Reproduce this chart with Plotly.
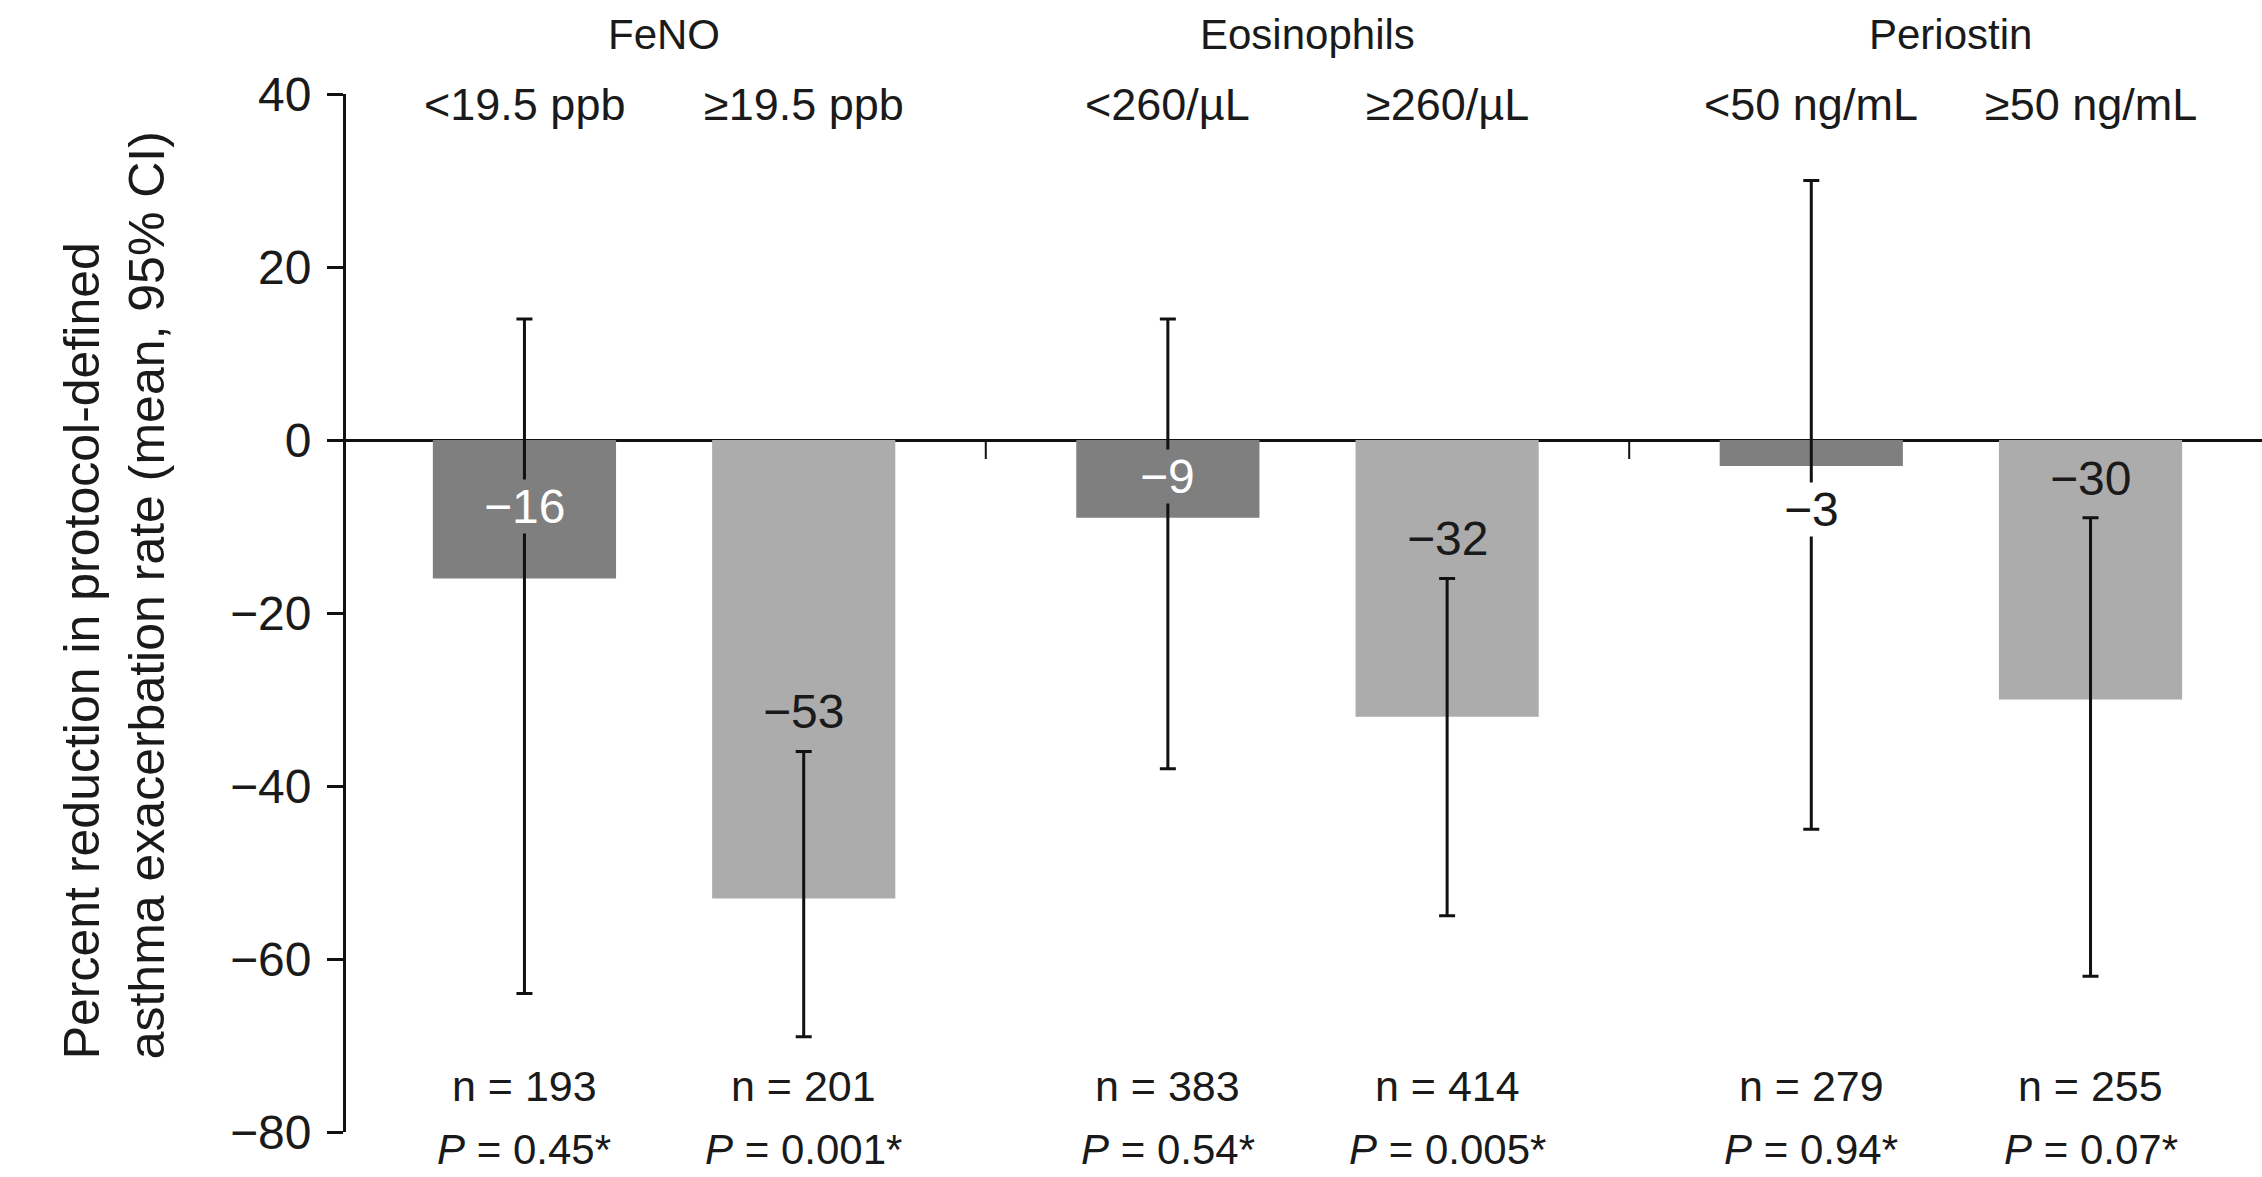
import plotly.graph_objects as go

# ---- data ----
groups = ["FeNO", "Eosinophils", "Periostin"]
subgroups = ["<19.5 ppb", "≥19.5 ppb", "<260/µL", "≥260/µL", "<50 ng/mL", "≥50 ng/mL"]
values = [-16, -53, -9, -32, -3, -30]
ci_upper = [14, -36, 14, -16, 30, -9]
ci_lower = [-64, -69, -38, -55, -45, -62]
n_values = [193, 201, 383, 414, 279, 255]
p_values = ["0.45", "0.001", "0.54", "0.005", "0.94", "0.07"]
y_ticks = [-80, -60, -40, -20, 0, 20, 40]

# ---- layout config (positions / styles) ----
GROUP_STEP = 2.304
BAR_WIDTH = 0.656
DARK = "#7f7f7f"
LIGHT = "#acacac"
FONT = "Liberation Sans, Arial, sans-serif"
TXT = "#1a1a1a"
label_y = [-7.7, -31.4, -4.2, -11.4, -8.0, -4.5]

xpos = [(i // 2) * GROUP_STEP + (i % 2) for i in range(len(values))]
colors = [DARK if i % 2 == 0 else LIGHT for i in range(len(values))]

fig = go.Figure()
fig.add_trace(go.Bar(
    x=xpos, y=values, width=BAR_WIDTH,
    marker=dict(color=colors, line=dict(width=0)),
    error_y=dict(type="data", symmetric=False,
                 array=[u - v for u, v in zip(ci_upper, values)],
                 arrayminus=[v - l for v, l in zip(values, ci_lower)],
                 color="#111111", thickness=3, width=8),
    showlegend=False, hoverinfo="skip",
))

ann = []
# bar value labels
for i, v in enumerate(values):
    inside_dark = (i % 2 == 0) and (label_y[i] > v)
    if i % 2 == 0:
        bg = DARK if inside_dark else "white"
        fc = "white" if inside_dark else TXT
    else:
        bg = LIGHT
        fc = TXT
    ann.append(dict(x=xpos[i], y=label_y[i], xref="x", yref="y",
                    text=f"−{abs(v)}", showarrow=False, bgcolor=bg, borderpad=0,
                    yanchor="middle",
                    font=dict(size=48, color=fc, family=FONT)))
# subgroup labels
for i, s in enumerate(subgroups):
    ann.append(dict(x=xpos[i], y=38.8, xref="x", yref="y", text=s, showarrow=False,
                    yanchor="middle",
                    font=dict(size=45, color=TXT, family=FONT)))
# group headers
for g, name in enumerate(groups):
    ann.append(dict(x=g * GROUP_STEP + 0.5, y=1.0575, xref="x", yref="paper",
                    text=name, showarrow=False, yanchor="middle",
                    font=dict(size=42, color=TXT, family=FONT)))
# n and P labels
for i in range(len(values)):
    ann.append(dict(x=xpos[i], y=-74.7, xref="x", yref="y", text=f"n = {n_values[i]}",
                    showarrow=False, yanchor="middle",
                    font=dict(size=43, color=TXT, family=FONT)))
    ann.append(dict(x=xpos[i], y=-0.0164, xref="x", yref="paper",
                    text=f"<i>P</i> = {p_values[i]}*", showarrow=False, yanchor="middle",
                    borderpad=0,
                    font=dict(size=42, color=TXT, family=FONT)))
# y-axis title
ann.append(dict(x=-0.1211, y=0.517, xref="paper", yref="paper",
                text="Percent reduction in protocol-defined<br>asthma exacerbation rate (mean, 95% CI)",
                textangle=-90, showarrow=False, xanchor="center", yanchor="middle",
                align="left",
                font=dict(size=50, color=TXT, family=FONT)))

# group separator ticks on zero line
shapes = []
for g in range(len(groups) - 1):
    xs = g * GROUP_STEP + 1 + (GROUP_STEP - 1) / 2
    shapes.append(dict(type="line", xref="x", yref="y", x0=xs, x1=xs, y0=0, y1=-2.2,
                       line=dict(color="#111111", width=2)))

fig.update_layout(
    width=2262, height=1177,
    margin=dict(l=346, r=0, t=94, b=45),
    paper_bgcolor="white", plot_bgcolor="white",
    annotations=ann, shapes=shapes,
    xaxis=dict(range=[-0.639, 6.222], visible=False, showgrid=False, zeroline=False),
    yaxis=dict(range=[-80, 40], tickvals=y_ticks, showgrid=False,
               zeroline=True, zerolinecolor="#111111", zerolinewidth=3,
               showline=True, linecolor="#111111", linewidth=3,
               ticks="outside", ticklen=16, tickwidth=3, tickcolor="#111111",
               ticklabelstandoff=6,
               tickfont=dict(size=48, color=TXT, family=FONT)),
    font=dict(family=FONT, color=TXT),
)

# remove the browser's default 8px body margin so the figure fills the window exactly
fig.write_html("out.html", config={"displayModeBar": False},
               post_script="document.body.style.margin='0';document.body.style.overflow='hidden';")
